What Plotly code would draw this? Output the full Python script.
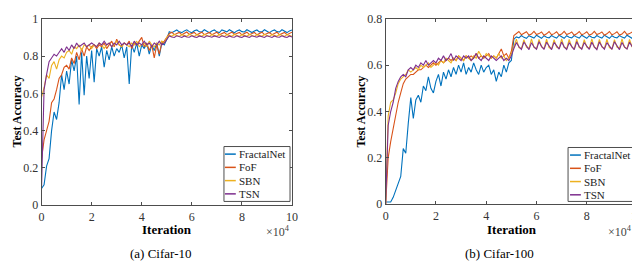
import plotly.graph_objects as go

# Iteration grid (x axis shown in units of 10^4 iterations)
ITER = [i / 10 for i in range(101)]

SERIES = ["FractalNet", "FoF", "SBN", "TSN"]
COLORS = ["#0072BD", "#D95319", "#EDB120", "#7E2F8E"]

# ---------------- Cifar-10 ----------------
C10_FRACTAL = [
    0.09, 0.11, 0.21, 0.25, 0.40, 0.50, 0.46, 0.55, 0.70, 0.62,
    0.72, 0.65, 0.78, 0.72, 0.80, 0.54, 0.82, 0.59, 0.80, 0.68,
    0.83, 0.66, 0.84, 0.80, 0.85, 0.74, 0.83, 0.78, 0.85, 0.80,
    0.84, 0.82, 0.86, 0.79, 0.85, 0.65, 0.86, 0.82, 0.87, 0.80,
    0.86, 0.84, 0.87, 0.81, 0.86, 0.83, 0.87, 0.80, 0.87, 0.86,
    0.89,
    0.930, 0.925, 0.935, 0.940, 0.930, 0.926, 0.935, 0.941, 0.931, 0.925,
    0.936, 0.940, 0.930, 0.929, 0.941, 0.935, 0.925, 0.934, 0.940, 0.930,
    0.926, 0.940, 0.935, 0.930, 0.941, 0.934, 0.925, 0.935, 0.940, 0.931,
    0.929, 0.941, 0.935, 0.926, 0.934, 0.940, 0.930, 0.930, 0.941, 0.935,
    0.925, 0.935, 0.940, 0.931, 0.929, 0.941, 0.934, 0.926, 0.935, 0.940,
]
C10_FOF = [
    0.25, 0.35, 0.40, 0.45, 0.55, 0.57, 0.62, 0.68, 0.70, 0.74,
    0.75, 0.73, 0.79, 0.76, 0.82, 0.78, 0.84, 0.80, 0.85, 0.83,
    0.85, 0.86, 0.84, 0.86, 0.85, 0.87, 0.84, 0.86, 0.88, 0.85,
    0.89, 0.86, 0.85, 0.87, 0.86, 0.88, 0.84, 0.87, 0.86, 0.88,
    0.90, 0.85, 0.87, 0.83, 0.86, 0.79, 0.86, 0.81, 0.87, 0.88,
    0.90,
    0.920, 0.928, 0.915, 0.921, 0.927, 0.914, 0.920, 0.929, 0.916, 0.921,
    0.927, 0.914, 0.921, 0.928, 0.915, 0.920, 0.927, 0.915, 0.921, 0.928,
    0.914, 0.921, 0.927, 0.915, 0.920, 0.928, 0.916, 0.921, 0.927, 0.914,
    0.920, 0.928, 0.915, 0.921, 0.927, 0.914, 0.921, 0.928, 0.915, 0.920,
    0.927, 0.915, 0.921, 0.928, 0.914, 0.920, 0.927, 0.915, 0.921, 0.928,
]
C10_SBN = [
    0.58, 0.63, 0.70, 0.68, 0.75, 0.77, 0.73, 0.78, 0.80, 0.79,
    0.82, 0.83, 0.81, 0.85, 0.84, 0.86, 0.83, 0.86, 0.85, 0.86,
    0.84, 0.86, 0.85, 0.87, 0.86, 0.84, 0.86, 0.87, 0.85, 0.86,
    0.88, 0.86, 0.85, 0.87, 0.86, 0.85, 0.87, 0.86, 0.88, 0.85,
    0.86, 0.87, 0.85, 0.88, 0.86, 0.85, 0.87, 0.86, 0.88, 0.87,
    0.90,
    0.912, 0.906, 0.916, 0.910, 0.905, 0.915, 0.911, 0.906, 0.916, 0.910,
    0.905, 0.915, 0.911, 0.906, 0.916, 0.910, 0.905, 0.915, 0.911, 0.906,
    0.916, 0.910, 0.905, 0.915, 0.911, 0.906, 0.916, 0.910, 0.905, 0.915,
    0.911, 0.906, 0.916, 0.910, 0.905, 0.915, 0.911, 0.906, 0.916, 0.910,
    0.905, 0.915, 0.911, 0.906, 0.916, 0.910, 0.905, 0.915, 0.911, 0.906,
]
C10_TSN = [
    0.10, 0.62, 0.70, 0.77, 0.79, 0.81, 0.80, 0.82, 0.84, 0.82,
    0.85, 0.83, 0.86, 0.84, 0.87, 0.85, 0.86, 0.87, 0.85, 0.86,
    0.87, 0.86, 0.85, 0.87, 0.86, 0.88, 0.86, 0.87, 0.85, 0.87,
    0.86, 0.88, 0.86, 0.87, 0.86, 0.87, 0.85, 0.88, 0.86, 0.87,
    0.86, 0.88, 0.86, 0.87, 0.85, 0.87, 0.86, 0.88, 0.86, 0.87,
    0.89,
    0.908, 0.902, 0.900, 0.909, 0.903, 0.900, 0.908, 0.902, 0.901, 0.909,
    0.903, 0.900, 0.908, 0.902, 0.900, 0.909, 0.903, 0.901, 0.908, 0.902,
    0.900, 0.909, 0.903, 0.900, 0.908, 0.902, 0.901, 0.909, 0.903, 0.900,
    0.908, 0.902, 0.900, 0.909, 0.903, 0.901, 0.908, 0.902, 0.900, 0.909,
    0.903, 0.900, 0.908, 0.902, 0.901, 0.909, 0.903, 0.900, 0.908, 0.902,
]

# ---------------- Cifar-100 ----------------
C100_FRACTAL = [
    0.01, 0.01, 0.01, 0.03, 0.06, 0.09, 0.12, 0.24, 0.22, 0.35,
    0.46, 0.37, 0.45, 0.47, 0.44, 0.51, 0.49, 0.55, 0.50, 0.48,
    0.53, 0.56, 0.51, 0.57, 0.54, 0.58, 0.55, 0.59, 0.56, 0.60,
    0.57, 0.61, 0.56, 0.59, 0.57, 0.61, 0.58, 0.56, 0.60, 0.57,
    0.59, 0.60, 0.56, 0.58, 0.53, 0.57, 0.55, 0.60, 0.57, 0.61,
    0.62,
    0.712, 0.722, 0.718, 0.728, 0.720, 0.716, 0.727, 0.721, 0.717, 0.729,
    0.722, 0.716, 0.727, 0.720, 0.718, 0.728, 0.721, 0.717, 0.729, 0.722,
    0.716, 0.727, 0.720, 0.718, 0.728, 0.721, 0.717, 0.729, 0.722, 0.716,
    0.727, 0.720, 0.718, 0.728, 0.721, 0.717, 0.729, 0.722, 0.716, 0.727,
    0.720, 0.718, 0.728, 0.721, 0.717, 0.729, 0.722, 0.716, 0.727, 0.724,
]
C100_FOF = [
    0.00, 0.20, 0.27, 0.33, 0.38, 0.44, 0.48, 0.52, 0.54, 0.55,
    0.56, 0.56, 0.57, 0.58, 0.58, 0.59, 0.60, 0.59, 0.60, 0.61,
    0.60, 0.61, 0.62, 0.61, 0.62, 0.63, 0.62, 0.63, 0.62, 0.64,
    0.63, 0.62, 0.64, 0.63, 0.64, 0.63, 0.65, 0.63, 0.64, 0.63,
    0.64, 0.65, 0.63, 0.64, 0.63, 0.65, 0.67, 0.64, 0.65, 0.63,
    0.66,
    0.728, 0.735, 0.745, 0.731, 0.736, 0.744, 0.730, 0.734, 0.746, 0.732,
    0.736, 0.743, 0.729, 0.735, 0.745, 0.731, 0.736, 0.744, 0.730, 0.734,
    0.746, 0.732, 0.736, 0.743, 0.729, 0.735, 0.745, 0.731, 0.736, 0.744,
    0.730, 0.734, 0.746, 0.732, 0.736, 0.743, 0.729, 0.735, 0.745, 0.731,
    0.736, 0.744, 0.730, 0.734, 0.746, 0.732, 0.736, 0.743, 0.735, 0.745,
]
C100_SBN = [
    0.00, 0.38, 0.44, 0.45, 0.48, 0.52, 0.54, 0.55, 0.56, 0.58,
    0.57, 0.58, 0.59, 0.58, 0.60, 0.59, 0.60, 0.61, 0.59, 0.60,
    0.61, 0.60, 0.62, 0.61, 0.63, 0.62, 0.61, 0.63, 0.62, 0.64,
    0.63, 0.62, 0.64, 0.63, 0.62, 0.64, 0.63, 0.66, 0.64, 0.63,
    0.65, 0.64, 0.63, 0.64, 0.63, 0.65, 0.63, 0.64, 0.62, 0.63,
    0.65,
    0.680, 0.712, 0.676, 0.671, 0.710, 0.678, 0.672, 0.713, 0.677, 0.670,
    0.711, 0.679, 0.671, 0.712, 0.676, 0.670, 0.710, 0.678, 0.672, 0.713,
    0.677, 0.671, 0.711, 0.679, 0.670, 0.712, 0.676, 0.671, 0.710, 0.678,
    0.672, 0.713, 0.677, 0.670, 0.711, 0.679, 0.671, 0.712, 0.676, 0.670,
    0.710, 0.678, 0.672, 0.713, 0.677, 0.671, 0.711, 0.679, 0.670, 0.700,
]
C100_TSN = [
    0.00, 0.34, 0.40, 0.44, 0.50, 0.53, 0.55, 0.56, 0.55, 0.58,
    0.59, 0.58, 0.60, 0.59, 0.61, 0.60, 0.62, 0.60, 0.61, 0.62,
    0.61, 0.63, 0.62, 0.64, 0.62, 0.63, 0.65, 0.62, 0.64, 0.63,
    0.62, 0.64, 0.63, 0.64, 0.62, 0.63, 0.65, 0.63, 0.62, 0.64,
    0.63, 0.62, 0.64, 0.63, 0.62, 0.63, 0.64, 0.62, 0.63, 0.62,
    0.64,
    0.672, 0.698, 0.680, 0.668, 0.700, 0.682, 0.667, 0.697, 0.679, 0.669,
    0.701, 0.681, 0.668, 0.699, 0.680, 0.667, 0.698, 0.682, 0.669, 0.700,
    0.679, 0.668, 0.697, 0.681, 0.667, 0.701, 0.680, 0.669, 0.698, 0.682,
    0.668, 0.699, 0.679, 0.667, 0.700, 0.681, 0.669, 0.697, 0.680, 0.668,
    0.701, 0.682, 0.667, 0.698, 0.679, 0.669, 0.699, 0.681, 0.668, 0.690,
]

X_TICKS = [0, 2, 4, 6, 8, 10]
X_TICKTEXT = ["0", "2", "4", "6", "8", "10"]
C10_YTICKS = [0, 0.2, 0.4, 0.6, 0.8, 1]
C10_YTICKTEXT = ["0", "0.2", "0.4", "0.6", "0.8", "1"]
C100_YTICKS = [0, 0.2, 0.4, 0.6, 0.8]
C100_YTICKTEXT = ["0", "0.2", "0.4", "0.6", "0.8"]

W, H = 640, 261
FONT = "Liberation Serif, Times New Roman, serif"
AX = "#4d4d4d"


def px(x):
    return x / W


def py(y):
    return 1 - y / H


fig = go.Figure()

for name, color, ys in zip(SERIES, COLORS, [C10_FRACTAL, C10_FOF, C10_SBN, C10_TSN]):
    fig.add_trace(go.Scatter(x=ITER, y=ys, mode="lines", name=name,
                             line=dict(color=color, width=1.1),
                             xaxis="x", yaxis="y", showlegend=False))
for name, color, ys in zip(SERIES, COLORS, [C100_FRACTAL, C100_FOF, C100_SBN, C100_TSN]):
    fig.add_trace(go.Scatter(x=ITER, y=ys, mode="lines", name=name,
                             line=dict(color=color, width=1.1),
                             xaxis="x2", yaxis="y2", showlegend=False))

axis_common = dict(showline=True, linecolor=AX, linewidth=1, mirror="allticks",
                   ticks="inside", ticklen=3, tickcolor=AX, showgrid=False,
                   zeroline=False, tickfont=dict(family=FONT, size=12, color="#333333"),
                   tickmode="array", fixedrange=True, ticklabeloverflow="allow")

fig.update_layout(
    width=W, height=H, autosize=False,
    margin=dict(l=0, r=0, t=0, b=0),
    paper_bgcolor="white", plot_bgcolor="white",
    font=dict(family=FONT, size=12),
    xaxis=dict(domain=[px(31), px(285)], range=[0, 10], anchor="y",
               tickvals=X_TICKS, ticktext=X_TICKTEXT, **axis_common),
    yaxis=dict(domain=[py(201), py(4)], range=[0, 1], anchor="x",
               tickvals=C10_YTICKS, ticktext=C10_YTICKTEXT, **axis_common),
    xaxis2=dict(domain=[px(380), px(635)], range=[0, 10], anchor="y2",
                tickvals=X_TICKS, ticktext=X_TICKTEXT, **axis_common),
    yaxis2=dict(domain=[py(200), py(4)], range=[0, 0.8], anchor="x2",
                tickvals=C100_YTICKS, ticktext=C100_YTICKTEXT, **axis_common),
)

annotations = []
shapes = []


def text(x, y, s, size=11, bold=False, xanchor="center", yanchor="middle", angle=0, color="#222222"):
    annotations.append(dict(
        x=px(x), y=py(y), xref="paper", yref="paper", text=("<b>%s</b>" % s) if bold else s,
        showarrow=False, xanchor=xanchor, yanchor=yanchor, textangle=angle,
        font=dict(family=FONT, size=size, color=color)))


# Axis titles, multipliers, captions
text(6, 102, "Test Accuracy", size=12, bold=True, angle=-90, color="black")
text(355, 102, "Test Accuracy", size=12, bold=True, angle=-90, color="black")
text(158, 227, "Iteration", size=13, bold=True, color="black")
text(508, 227, "Iteration", size=13, bold=True, color="black")
text(285, 229, "×10<sup>4</sup>", size=12, xanchor="right", color="#444444")
text(632, 229, "×10<sup>4</sup>", size=12, xanchor="right", color="#444444")
text(152, 252, "(a) Cifar-10", size=13, color="black")
text(495, 252, "(b) Cifar-100", size=13, color="black")

# Legend boxes (drawn as in MATLAB: short line samples)
LEGENDS = [
    dict(box=(216, 139, 283, 197), line_x=(217, 228), text_x=229, rows=[147, 161, 175, 189]),
    dict(box=(565, 140, 633, 197), line_x=(567, 578), text_x=579, rows=[148, 162, 176, 190]),
]
for lg in LEGENDS:
    x0, y0, x1, y1 = lg["box"]
    shapes.append(dict(type="rect", xref="paper", yref="paper",
                       x0=px(x0), y0=py(y1), x1=px(x1), y1=py(y0),
                       line=dict(color=AX, width=1), fillcolor="white", layer="above"))
    for name, color, ry in zip(SERIES, COLORS, lg["rows"]):
        shapes.append(dict(type="line", xref="paper", yref="paper",
                           x0=px(lg["line_x"][0]), x1=px(lg["line_x"][1]),
                           y0=py(ry), y1=py(ry), line=dict(color=color, width=1.5), layer="above"))
        text(lg["text_x"], ry, name, size=11, xanchor="left", color="#222222")

fig.update_layout(annotations=annotations, shapes=shapes)
fig.write_html("out.html")
